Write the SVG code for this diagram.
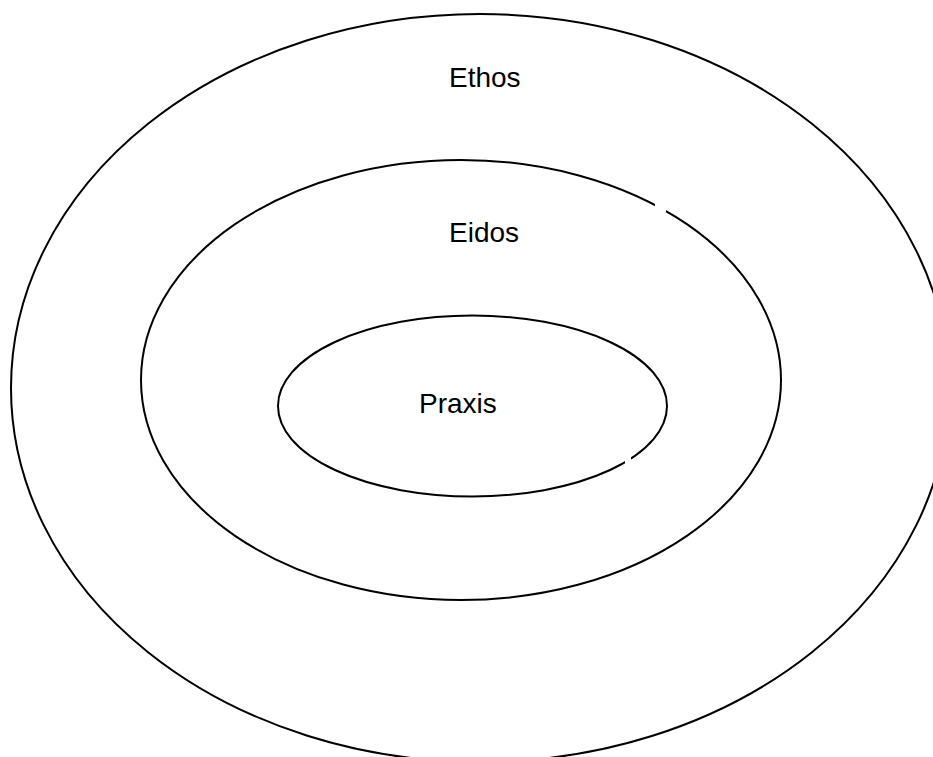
<svg xmlns="http://www.w3.org/2000/svg" width="933" height="757" viewBox="0 0 933 757">
<style>
.ring{fill:none;stroke:#000;stroke-width:2}
.lbl{font-family:"Liberation Sans",Arial,sans-serif;font-size:28px;fill:#000}
.gap{fill:#fff}
</style>
<rect width="933" height="757" fill="#fff"/>
<g id="ethos">
<ellipse class="ring" cx="480" cy="388" rx="469" ry="374"/>
<text class="lbl" x="449" y="87">Ethos</text>
</g>
<g id="eidos">
<ellipse class="ring" cx="461" cy="380" rx="320" ry="220"/>
<text class="lbl" x="449" y="242">Eidos</text>
</g>
<g id="praxis">
<ellipse class="ring" cx="472.5" cy="406" rx="194.5" ry="90.5"/>
<text class="lbl" x="419" y="413">Praxis</text>
</g>
<g id="connectors"></g>
<rect class="gap" x="655" y="201" width="11" height="11"/>
<rect class="gap" x="625" y="457" width="6" height="7"/>
</svg>
